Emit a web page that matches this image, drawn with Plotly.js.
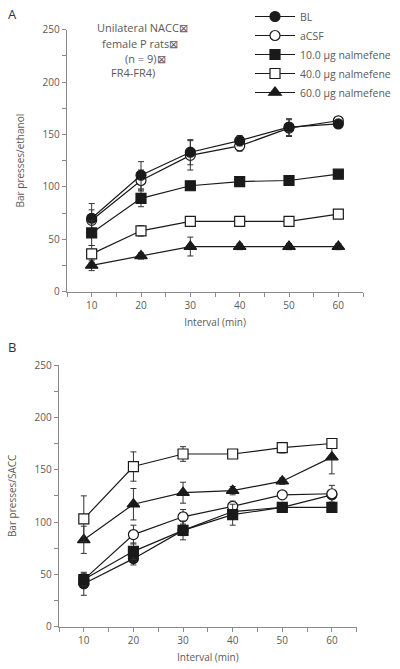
<!DOCTYPE html>
<html>
<head>
<meta charset="utf-8">
<script src="https://cdn.plot.ly/plotly-3.0.1.min.js"></script>
<style>html,body{margin:0;padding:0;background:#fff;}#chart{width:400px;height:669px;}</style>
</head>
<body>
<div id="chart"></div>
<script>
// ---- data ----
var intervals = [10, 20, 30, 40, 50, 60];
var seriesNames = ["BL", "aCSF", "10.0 \u00b5g nalmefene", "40.0 \u00b5g nalmefene", "60.0 \u00b5g nalmefene"];

// Panel A: Bar presses/ethanol
var A_BL    = [70, 111, 133, 144, 157, 160];
var A_BL_err = [14, 13, 12, 5, 8, 3];
var A_aCSF  = [68, 106, 130, 139, 156, 163];
var A_aCSF_err = [10, 10, 14, 5, 8, 3];
var A_10    = [56, 89, 101, 105, 106, 112];
var A_10_err = [12, 8, 4, 3, 3, 3];
var A_40    = [36, 58, 67, 67, 67, 74];
var A_40_err = [8, 5, 3, 3, 3, 3];
var A_60    = [25, 34, 43, 43, 43, 43];
var A_60_err = [5, 3, 9, 3, 3, 3];

// Panel B: Bar presses/SACC
var B_BL    = [41, 65, 92, 110, 114, 126];
var B_BL_err = [11, 6, 5, 5, 3, 3];
var B_aCSF  = [45, 88, 105, 115, 126, 127];
var B_aCSF_err = [6, 9, 7, 5, 3, 8];
var B_10    = [45, 72, 92, 107, 114, 114];
var B_10_err = [5, 8, 9, 10, 3, 3];
var B_40    = [103, 153, 165, 165, 171, 175];
var B_40_err = [22, 14, 7, 3, 5, 3];
var B_60    = [83, 117, 128, 130, 139, 162];
var B_60_err = [13, 15, 10, 4, 3, 16];

var titleLines = ["Unilateral NACC\u22a0", "female P rats\u22a0", "(n = 9)\u22a0", "FR4-FR4)"];

// ---- styles ----
var LINE = "#1a1a1a";
var GRAY = "#8a8a8a";
var TXT = "#5a5a5a";
var FONT = "Open Sans, Liberation Sans, sans-serif";
var styles = [
  {symbol: "circle", fill: LINE},
  {symbol: "circle", fill: "#ffffff"},
  {symbol: "square", fill: LINE},
  {symbol: "square", fill: "#ffffff"},
  {symbol: "triangle-up", fill: LINE}
];

function mk(idx, y, err, xa, ya, showLegend) {
  var s = styles[idx];
  return {
    x: intervals, y: y, type: "scatter", mode: "lines+markers",
    name: seriesNames[idx], legendrank: idx + 1,
    xaxis: xa, yaxis: ya, showlegend: showLegend,
    line: {color: LINE, width: 1.2},
    marker: {symbol: s.symbol, size: s.symbol === "triangle-up" ? 11 : 10, color: s.fill,
             line: {color: LINE, width: 1.2}},
    error_y: {type: "data", array: err, visible: true, color: "#333", thickness: 1, width: 3}
  };
}

var data = [
  mk(1, A_aCSF, A_aCSF_err, "x", "y", true),
  mk(0, A_BL, A_BL_err, "x", "y", true),
  mk(2, A_10, A_10_err, "x", "y", true),
  mk(3, A_40, A_40_err, "x", "y", true),
  mk(4, A_60, A_60_err, "x", "y", true),
  mk(0, B_BL, B_BL_err, "x2", "y2", false),
  mk(1, B_aCSF, B_aCSF_err, "x2", "y2", false),
  mk(2, B_10, B_10_err, "x2", "y2", false),
  mk(4, B_60, B_60_err, "x2", "y2", false),
  mk(3, B_40, B_40_err, "x2", "y2", false)
];

function xax(domain, anchor) {
  return {
    domain: domain, anchor: anchor, range: [5, 65], tick0: 10, dtick: 10,
    showline: true, linecolor: GRAY, linewidth: 1.3, showgrid: false, zeroline: false,
    ticks: "outside", ticklen: 4, tickcolor: GRAY, tickwidth: 1,
    minor: {dtick: 5, tick0: 5, ticks: "outside", ticklen: 4, tickcolor: GRAY, tickwidth: 1, showgrid: false},
    tickfont: {family: FONT, size: 10, color: TXT},
    title: {text: "Interval (min)", font: {family: FONT, size: 10, color: TXT}, standoff: 8}
  };
}
function yax(domain, anchor, title) {
  return {
    domain: domain, anchor: anchor, range: [0, 250], tick0: 0, dtick: 50,
    showline: true, linecolor: GRAY, linewidth: 1.3, showgrid: false, zeroline: false,
    ticks: "outside", ticklen: 4, tickcolor: GRAY, tickwidth: 1,
    minor: {dtick: 25, ticks: "outside", ticklen: 4, tickcolor: GRAY, tickwidth: 1, showgrid: false},
    tickfont: {family: FONT, size: 10, color: TXT},
    title: {text: title, font: {family: FONT, size: 10, color: TXT}, standoff: 16}
  };
}

var annotations = [
  {text: "A", x: 12/400, y: 1 - 14/669, xref: "paper", yref: "paper", showarrow: false,
   xanchor: "center", yanchor: "middle", font: {family: FONT, size: 13, color: "#333"}},
  {text: "B", x: 12/400, y: 1 - 347/669, xref: "paper", yref: "paper", showarrow: false,
   xanchor: "center", yanchor: "middle", font: {family: FONT, size: 13, color: "#333"}}
];
var lineX = [142, 140, 145, 133];
var lineY = [28, 43, 59, 73];
for (var i = 0; i < titleLines.length; i++) {
  annotations.push({text: titleLines[i], x: lineX[i]/400, y: 1 - lineY[i]/669, xref: "paper", yref: "paper",
    showarrow: false, xanchor: "center", yanchor: "middle", font: {family: FONT, size: 11, color: TXT}});
}

var layout = {
  width: 400, height: 669,
  margin: {l: 0, r: 0, t: 0, b: 0},
  paper_bgcolor: "#fff", plot_bgcolor: "#fff",
  showlegend: true,
  legend: {x: 0.625, y: 1 - 2/669, xanchor: "left", yanchor: "top", bgcolor: "rgba(0,0,0,0)",
           font: {family: FONT, size: 10.5, color: TXT}, traceorder: "normal", itemwidth: 40},
  xaxis: xax([67/400, 363/400], "y"),
  yaxis: yax([(669-291.6)/669, (669-29.6)/669], "x", "Bar presses/ethanol"),
  xaxis2: xax([59/400, 356.7/400], "y2"),
  yaxis2: yax([(669-626.7)/669, (669-365)/669], "x2", "Bar presses/SACC"),
  annotations: annotations
};

Plotly.newPlot("chart", data, layout, {displayModeBar: false, staticPlot: true});
</script>
</body>
</html>
